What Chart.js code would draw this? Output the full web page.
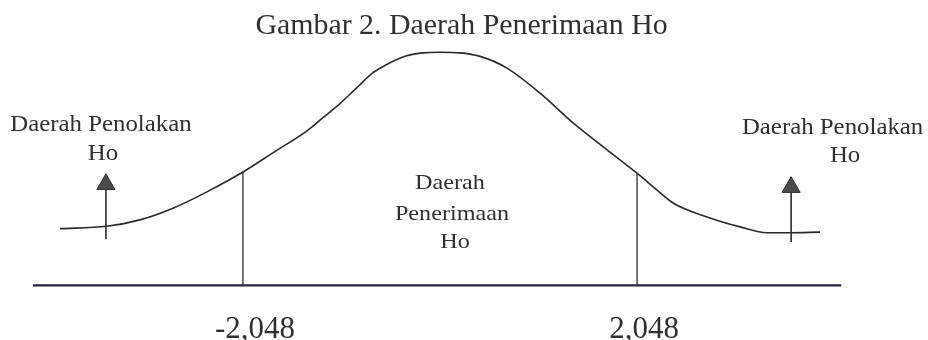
<!DOCTYPE html>
<html><head><meta charset="utf-8">
<script src="https://cdn.jsdelivr.net/npm/chart.js@4"></script>
<style>html,body{margin:0;padding:0;background:#fff;}#wrap{width:928px;height:340px;}</style>
</head><body><div id="wrap"><canvas id="c" width="928" height="340"></canvas></div>
<script>
// Curve (z value, height)
const curveZ = [-3.950,-3.465,-3.119,-2.775,-2.422,-2.048,-1.726,-1.386,-1.216,-1.040,-0.866,-0.696,-0.520,-0.346,-0.177,0.000,0.208,0.416,0.696,1.040,1.383,1.736,2.048,2.256,2.422,2.775,3.119,3.399,3.638,3.950];
const curveH = [0.097,0.101,0.112,0.132,0.160,0.194,0.228,0.264,0.287,0.311,0.338,0.364,0.381,0.393,0.398,0.399,0.398,0.392,0.372,0.329,0.278,0.232,0.192,0.163,0.141,0.117,0.100,0.090,0.090,0.091];
const criticalZ = [-2.048, 2.048];
const criticalH = [0.194, 0.192];
const tickLabels = ['-2,048', '2,048'];
const axisRange = [-4.23, 4.17];
const arrowZ = [-3.472, 3.649];
const arrowBase = [0.079, 0.074];
const arrowHead = [0.173, 0.168];
const titleText = 'Gambar 2. Daerah Penerimaan Ho';
const rejectLabel = ['Daerah Penolakan', 'Ho'];
const acceptLabel = ['Daerah', 'Penerimaan', 'Ho'];

const ink = '#2a2a2a';
const datasets = [
  { data: curveZ.map((x, i) => ({ x, y: curveH[i] })), borderColor: ink, borderWidth: 1.6, cubicInterpolationMode: 'monotone' },
  { data: [{ x: axisRange[0], y: 0 }, { x: axisRange[1], y: 0 }], borderColor: '#25253a', borderWidth: 2.2 }
];
criticalZ.forEach((c, i) => datasets.push({ data: [{ x: c, y: 0 }, { x: c, y: criticalH[i] }], borderColor: ink, borderWidth: 1.3 }));
arrowZ.forEach((a, i) => datasets.push({
  data: [{ x: a, y: arrowBase[i] }, { x: a, y: arrowHead[i] }], borderColor: ink, borderWidth: 1.6,
  pointRadius: [0, 10.5], pointStyle: 'triangle', pointBackgroundColor: '#4a4a4a', pointBorderColor: '#333', pointBorderWidth: 1
}));
datasets.forEach(d => { d.showLine = true; d.fill = false; d.clip = false; if (d.pointRadius === undefined) d.pointRadius = 0; });

function txt(ctx, s, x, y, size, stretch) {
  ctx.save();
  ctx.translate(x, y);
  ctx.scale(stretch, 1);
  ctx.font = size + 'px "Liberation Serif", "Times New Roman", serif';
  ctx.fillStyle = '#303030';
  ctx.textAlign = 'center';
  ctx.textBaseline = 'alphabetic';
  ctx.fillText(s, 0, 0);
  ctx.restore();
}

const textPlugin = {
  id: 'texts',
  afterDraw(chart) {
    const ctx = chart.ctx, X = chart.scales.x, Y = chart.scales.y;
    const px = v => X.getPixelForValue(v), py = v => Y.getPixelForValue(v);
    txt(ctx, titleText, px(0.224), py(0.430), 29, 1.03);
    // left rejection region
    txt(ctx, rejectLabel[0], px(-3.524), py(0.264), 23, 1.08);
    txt(ctx, rejectLabel[1], px(-3.503), py(0.215), 23, 1.08);
    // right rejection region
    txt(ctx, rejectLabel[0], px(4.080), py(0.259), 23, 1.08);
    txt(ctx, rejectLabel[1], px(4.210), py(0.211), 23, 1.08);
    // acceptance region
    txt(ctx, acceptLabel[0], px(0.104), py(0.165), 22, 1.1);
    txt(ctx, acceptLabel[1], px(0.125), py(0.112), 22, 1.1);
    txt(ctx, acceptLabel[2], px(0.156), py(0.064), 22, 1.1);
    // critical value labels
    const off = [12, 7];
    criticalZ.forEach((c, i) => txt(ctx, tickLabels[i], px(c) + off[i], py(-0.090), 31, 1.0));
  }
};

new Chart(document.getElementById('c'), {
  type: 'scatter',
  data: { datasets },
  options: {
    responsive: false, animation: false,
    layout: { padding: { left: 7, right: 55, top: 5, bottom: 8 }, autoPadding: false },
    plugins: { legend: { display: false }, tooltip: { enabled: false }, title: { display: false } },
    scales: {
      x: { type: 'linear', min: -4.5, max: 4.5, display: false },
      y: { type: 'linear', min: -0.08, max: 0.48, display: false }
    }
  },
  plugins: [textPlugin]
});
</script>
</body></html>
